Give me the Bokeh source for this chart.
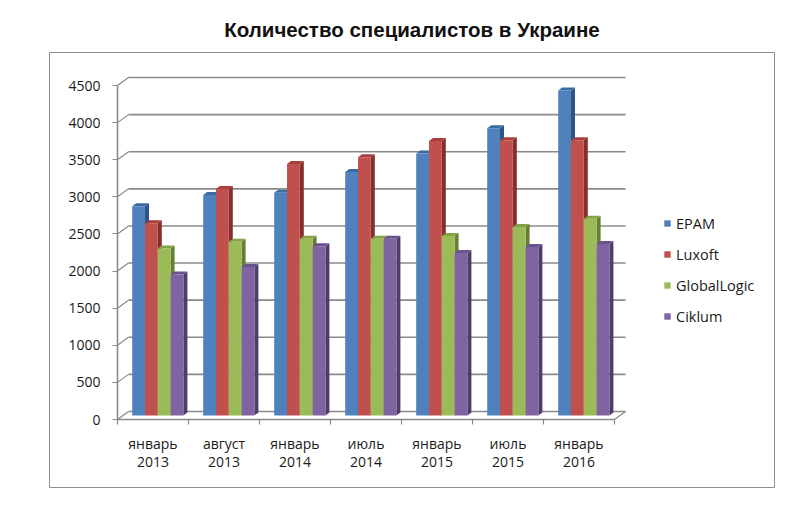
from bokeh.plotting import figure
from bokeh.models import LinearAxis, FixedTicker, Range1d, Legend, LegendItem, ColumnDataSource
from bokeh.embed import file_html
from bokeh.resources import INLINE

# ---- data ----
title_text = "Количество специалистов в Украине"
periods = ["январь\n2013", "август\n2013", "январь\n2014", "июль\n2014",
           "январь\n2015", "июль\n2015", "январь\n2016"]
series_names = ["EPAM", "Luxoft", "GlobalLogic", "Ciklum"]
epam = [2820, 2970, 3000, 3280, 3530, 3870, 4380]
luxoft = [2590, 3050, 3390, 3480, 3700, 3710, 3710]
globallogic = [2250, 2340, 2380, 2380, 2420, 2540, 2650]
ciklum = [1900, 2000, 2280, 2380, 2190, 2270, 2310]
y_ticks = [0, 500, 1000, 1500, 2000, 2500, 3000, 3500, 4000, 4500]

series_values = [epam, luxoft, globallogic, ciklum]

# ---- style / geometry ----
front_colors = ["#4F81BD", "#C0504D", "#9BBB59", "#8064A2"]
top_colors = ["#3C6AA3", "#A83F3C", "#84A347", "#6A5190"]
side_colors = ["#2E5486", "#842F2D", "#657F33", "#4F3C6B"]
GRID = "#8a8a8a"
FONT = "Open Sans"

PX_X = 71.0            # pixels per category
PX_Y = 334.0 / 4500.0  # pixels per unit
WALL_DX = 11.0 / PX_X
WALL_DY = 8.0 / PX_Y
BAR_W = 12.8 / PX_X
GROUP_OFF = 14.7 / PX_X
BAR_DX = 4.0 / PX_X
BAR_DY = 3.0 / PX_Y
BAR_BASE = 4.0 / PX_Y
n_cat = len(periods)

p = figure(width=800, height=507, output_backend="svg", toolbar_location=None,
           x_axis_type=None, y_axis_type=None,
           x_range=Range1d(-68.0 / PX_X, 657.0 / PX_X),
           y_range=Range1d(-68.0 / PX_Y, 4500 + 33.0 / PX_Y),
           min_border_left=49, min_border_right=26, min_border_top=52, min_border_bottom=20)
p.grid.visible = False
p.outline_line_color = "#8c8c8c"
p.outline_line_width = 1
p.background_fill_color = "white"
p.border_fill_color = "white"

p.title.text = title_text
p.title.text_font = "Liberation Sans"
p.title.text_font_style = "bold"
p.title.text_font_size = "20.5px"
p.title.align = "center"
p.title.text_color = "#111111"
p.title.standoff = 24

# back wall gridlines + connectors
gx0 = [WALL_DX for v in y_ticks]
gx1 = [n_cat + WALL_DX for v in y_ticks]
gy = [v + WALL_DY for v in y_ticks]
p.segment(x0=gx0, y0=gy, x1=gx1, y1=gy, line_color=GRID, line_width=1.6)
p.segment(x0=[0 for v in y_ticks], y0=y_ticks, x1=gx0, y1=gy, line_color=GRID, line_width=1.2)
p.segment(x0=[n_cat], y0=[0], x1=[n_cat + WALL_DX], y1=[WALL_DY], line_color=GRID, line_width=1.2)

legend_items = []
for k, vals in enumerate(series_values):
    lefts = [i + GROUP_OFF + k * BAR_W for i in range(n_cat)]
    rights = [l + BAR_W for l in lefts]
    tops = [BAR_BASE + v for v in vals]
    side_xs = [[r, r + BAR_DX, r + BAR_DX, r] for r in rights]
    side_ys = [[BAR_BASE, BAR_BASE + BAR_DY, t + BAR_DY, t] for t in tops]
    top_xs = [[l, l + BAR_DX, r + BAR_DX, r] for l, r in zip(lefts, rights)]
    top_ys = [[t, t + BAR_DY, t + BAR_DY, t] for t in tops]
    p.patches(xs=side_xs, ys=side_ys, fill_color=side_colors[k], line_color=None)
    p.patches(xs=top_xs, ys=top_ys, fill_color=top_colors[k], line_color=None)
    src = ColumnDataSource(dict(left=lefts, right=rights, top=tops, bottom=[BAR_BASE] * n_cat))
    r = p.quad(left="left", right="right", top="top", bottom="bottom", source=src,
               fill_color=front_colors[k], line_color=None)
    legend_items.append(LegendItem(label=series_names[k], renderers=[r]))

# axes
yaxis = LinearAxis(ticker=FixedTicker(ticks=y_ticks), fixed_location=0, bounds=(0, 4500),
                   axis_line_color=GRID, axis_line_width=1.6,
                   major_tick_line_color=GRID, major_tick_line_width=1.2,
                   major_tick_out=5, major_tick_in=0, minor_tick_line_color=None,
                   major_label_text_font=FONT, major_label_text_font_size="14px",
                   major_label_text_color="#1a1a1a", major_label_standoff=12)
p.add_layout(yaxis, "left")

xtick_axis = LinearAxis(ticker=FixedTicker(ticks=list(range(n_cat + 1))), fixed_location=0,
                        bounds=(0, n_cat), axis_line_color=GRID, axis_line_width=1.6,
                        major_tick_line_color=GRID, major_tick_line_width=1.2,
                        major_tick_out=5, major_tick_in=0, minor_tick_line_color=None,
                        major_label_overrides={i: "" for i in range(n_cat + 1)})
p.add_layout(xtick_axis, "below")

xlabel_axis = LinearAxis(ticker=FixedTicker(ticks=[i + 0.5 for i in range(n_cat)]), fixed_location=0,
                         axis_line_color=None, major_tick_line_color=None, minor_tick_line_color=None,
                         major_label_overrides={i + 0.5: periods[i] for i in range(n_cat)},
                         major_label_text_font=FONT, major_label_text_font_size="14px",
                         major_label_text_color="#1a1a1a", major_label_text_line_height=0.97,
                         major_label_standoff=8)
p.add_layout(xlabel_axis, "below")

legend = Legend(items=legend_items, location=(614, 161), orientation="vertical",
                glyph_width=8, glyph_height=8, label_height=20, spacing=11,
                label_standoff=5, padding=0, margin=0,
                label_text_font=FONT, label_text_font_size="14.5px", label_text_color="#1a1a1a",
                border_line_color=None, background_fill_alpha=0)
p.add_layout(legend)

open("out.html", "w").write(file_html(p, INLINE))
